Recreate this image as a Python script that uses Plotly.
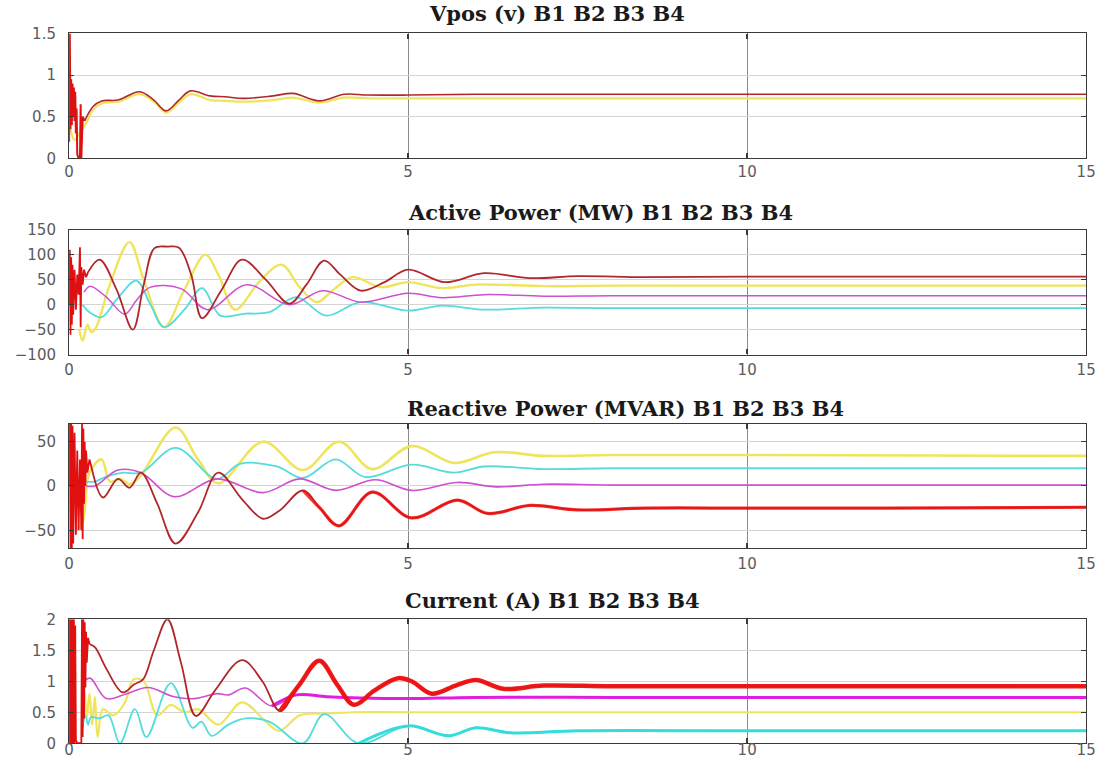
import plotly.graph_objects as go

# ---------------- data (time in s) ----------------
# Panel 1: Vpos (v)
vpos_tr_t = [0.0, 0.01, 0.02, 0.03, 0.04, 0.05, 0.06, 0.07, 0.08, 0.09, 0.1, 0.11, 0.12, 0.14, 0.16, 0.17, 0.18, 0.2, 0.23]
vpos_tr_v = [0.2, 1.5, 0.35, 0.95, 0.4, 0.9, 0.5, 0.85, 0.45, 0.8, 0.3, 0.6, 0.05, 0.0, 0.0, 0.65, 0.0, 0.5, 0.45]
vpos_b1_t = [0.23, 0.35, 0.48, 0.72, 1.04, 1.25, 1.43, 1.62, 1.79, 2.08, 2.3, 2.57, 3.01, 3.3, 3.69, 4.06, 4.4, 5.0, 6.0, 8.0, 10.0, 12.0, 15.0]
vpos_b1_v = [0.45, 0.62, 0.69, 0.70, 0.80, 0.70, 0.57, 0.70, 0.81, 0.75, 0.74, 0.72, 0.75, 0.78, 0.69, 0.77, 0.76, 0.76, 0.77, 0.77, 0.77, 0.77, 0.77]
vpos_b2_t = [0.02, 0.08, 0.15, 0.25, 0.35, 0.48, 0.72, 1.04, 1.25, 1.43, 1.62, 1.79, 2.08, 2.3, 2.57, 3.01, 3.3, 3.69, 4.06, 4.4, 5.0, 6.0, 8.0, 10.0, 15.0]
vpos_b2_v = [0.35, 0.22, 0.3, 0.42, 0.58, 0.66, 0.68, 0.77, 0.68, 0.55, 0.67, 0.77, 0.70, 0.69, 0.68, 0.70, 0.73, 0.67, 0.73, 0.72, 0.72, 0.72, 0.72, 0.72, 0.72]

# Panel 2: Active Power (MW)
p_tr_t = [0.0, 0.01, 0.02, 0.03, 0.04, 0.05, 0.06, 0.08, 0.1, 0.12, 0.14, 0.16, 0.17, 0.18, 0.2, 0.22, 0.25, 0.28]
p_tr_v = [0, 110, -60, 95, -40, 80, -20, 70, -10, 60, 20, 115, -45, 75, 40, 70, 55, 65]
p_b1_t = [0.28, 0.45, 0.7, 0.94, 1.1, 1.26, 1.45, 1.62, 1.8, 1.96, 2.25, 2.55, 2.9, 3.25, 3.5, 3.76, 4.0, 4.3, 4.65, 5.0, 5.54, 6.12, 6.8, 7.5, 8.5, 10.0, 12.0, 15.0]
p_b1_v = [65, 90, 30, -50, 40, 113, 116, 114, 60, -27, 30, 90, 50, 2, 40, 88, 60, 28, 45, 70, 45, 63, 53, 57, 55, 56, 56, 56]
p_b2_t = [0.15, 0.2, 0.27, 0.33, 0.4, 0.6, 0.89, 1.1, 1.4, 1.7, 2.01, 2.2, 2.45, 2.8, 3.13, 3.4, 3.65, 3.9, 4.18, 4.6, 5.0, 5.5, 6.0, 7.0, 8.0, 10.0, 15.0]
p_b2_v = [-50, -72, -40, -55, -45, 40, 125, 50, -45, 30, 100, 60, -10, 45, 80, 35, 5, 30, 55, 35, 45, 33, 40, 37, 38, 38, 38]
p_b3_t = [0.2, 0.3, 0.48, 0.7, 0.99, 1.2, 1.4, 1.7, 1.96, 2.23, 2.6, 2.95, 3.35, 3.79, 4.3, 5.0, 5.5, 6.12, 7.0, 8.0, 10.0, 15.0]
p_b3_v = [0, -15, -25, 10, 48, 0, -45, -10, 33, -22, -18, -15, 15, -22, 5, -12, -2, -10, -6, -7, -7, -7]
p_b4_t = [0.22, 0.31, 0.55, 0.82, 1.0, 1.2, 1.65, 2.04, 2.62, 3.25, 3.74, 4.3, 5.0, 5.5, 6.12, 7.0, 8.0, 10.0, 15.0]
p_b4_v = [25, 37, 15, -19, 10, 35, 32, -10, 40, 0, 28, 5, 23, 14, 20, 17, 18, 18, 18]

# Panel 3: Reactive Power (MVAR)
q_tr_t = [0.0, 0.01, 0.02, 0.03, 0.04, 0.05, 0.06, 0.08, 0.1, 0.12, 0.14, 0.16, 0.18, 0.19, 0.2, 0.21, 0.22, 0.23, 0.24, 0.25, 0.27, 0.3, 0.34]
q_tr_v = [0, 70, -70, 70, -70, 68, -65, 60, -55, 40, -50, 30, -50, 70, -60, 65, -20, 50, 0, 40, 15, 30, 18]
q_b1_t = [0.34, 0.5, 0.72, 0.89, 1.06, 1.3, 1.57, 1.9, 2.2, 2.55, 2.86, 3.1, 3.45, 3.7, 3.98, 4.47, 5.05, 5.73, 6.17, 6.8, 7.5, 8.5, 10.0, 12.0, 15.0]
q_b1_v = [18, -13, 8, -2, 15, -20, -65, -30, 15, -15, -37, -28, -5, -25, -45, -7, -36, -16, -31, -22, -27, -25, -25, -25, -24]
q_b2_t = [0.1, 0.2, 0.3, 0.48, 0.6, 0.75, 0.9, 1.06, 1.57, 1.9, 2.2, 2.86, 3.45, 3.98, 4.47, 5.05, 5.68, 6.27, 7.0, 8.0, 10.0, 15.0]
q_b2_v = [-50, -40, 15, 30, 5, 8, 2, 12, 66, 30, 3, 50, 18, 50, 19, 45, 26, 38, 34, 35, 35, 34]
q_b3_t = [0.25, 0.38, 0.53, 0.8, 1.06, 1.57, 2.18, 2.52, 3.06, 3.45, 3.93, 4.37, 5.05, 5.68, 6.12, 7.0, 8.0, 10.0, 15.0]
q_b3_v = [5, 5, 10, 15, 15, 43, 8, 25, 22, 9, 30, 10, 24, 15, 22, 19, 20, 20, 20]
q_b4_t = [0.25, 0.38, 0.72, 1.06, 1.55, 2.18, 2.86, 3.4, 3.93, 4.52, 5.05, 5.73, 6.3, 7.0, 8.0, 10.0, 15.0]
q_b4_v = [0, 0, 18, 15, -12, 8, -7.5, 8, -5, 7, -5, 4, -1, 2, 1, 1, 1]

# Panel 4: Current (A)
i_tr_t = [0.0, 0.01, 0.02, 0.03, 0.04, 0.05, 0.06, 0.07, 0.08, 0.09, 0.1, 0.12, 0.15, 0.18, 0.19, 0.2, 0.21, 0.22, 0.23, 0.24, 0.25, 0.26, 0.28, 0.3]
i_tr_v = [0, 2, 0, 2, 0, 2, 0, 2, 0, 1.9, 0.05, 0, 0, 0, 2, 0.1, 2, 0.4, 1.95, 0.9, 1.8, 1.3, 1.7, 1.6]
i_b1_t = [0.3, 0.38, 0.55, 0.79, 0.96, 1.09, 1.25, 1.45, 1.65, 1.87, 2.15, 2.55, 2.85, 3.11, 3.4, 3.69, 3.95, 4.2, 4.5, 4.85, 5.05, 5.35, 5.7, 6.0, 6.4, 7.0, 8.0, 10.0, 12.0, 15.0]
i_b1_v = [1.6, 1.55, 1.2, 0.82, 0.95, 1.03, 1.5, 2.0, 1.3, 0.44, 0.85, 1.34, 1.0, 0.52, 0.95, 1.33, 0.95, 0.62, 0.85, 1.05, 1.0, 0.8, 0.93, 1.02, 0.88, 0.93, 0.92, 0.92, 0.92, 0.92]
i_b2_t = [0.2, 0.23, 0.26, 0.3, 0.34, 0.38, 0.42, 0.5, 0.65, 0.82, 0.95, 1.1, 1.3, 1.5, 1.7, 1.9, 2.2, 2.55, 2.9, 3.1, 3.4, 3.8, 4.2, 5.0, 10.0, 15.0]
i_b2_v = [0.5, 0.85, 0.4, 0.8, 0.3, 0.75, 0.1, 0.55, 0.45, 0.65, 1.03, 1.0, 0.45, 0.62, 0.5, 0.55, 0.3, 0.66, 0.35, 0.2, 0.45, 0.48, 0.5, 0.5, 0.5, 0.5]
i_b3_t = [0.2, 0.24, 0.28, 0.32, 0.45, 0.58, 0.75, 0.97, 1.14, 1.5, 1.82, 1.95, 2.1, 2.35, 2.6, 2.95, 3.45, 3.76, 4.27, 5.0, 5.6, 6.0, 6.5, 7.5, 10.0, 15.0]
i_b3_v = [0.25, 0.45, 0.3, 0.42, 0.4, 0.45, 0.0, 0.55, 0.1, 0.97, 0.25, 0.35, 0.12, 0.3, 0.4, 0.35, 0.0, 0.47, 0.0, 0.28, 0.12, 0.25, 0.17, 0.2, 0.2, 0.2]
i_b4_t = [0.22, 0.31, 0.55, 0.85, 1.16, 1.55, 1.85, 2.18, 2.35, 2.6, 2.99, 3.35, 3.8, 4.3, 5.0, 6.0, 8.0, 10.0, 15.0]
i_b4_v = [1.0, 1.05, 0.72, 0.8, 0.9, 0.75, 0.72, 0.8, 0.78, 0.89, 0.6, 0.78, 0.75, 0.73, 0.72, 0.74, 0.74, 0.74, 0.74]

titles = ["Vpos (v) B1 B2 B3 B4", "Active Power (MW) B1 B2 B3 B4",
          "Reactive Power (MVAR) B1 B2 B3 B4", "Current (A) B1 B2 B3 B4"]
x_ticks = [0, 5, 10, 15]
y_ranges = [[0, 1.5], [-100, 150], [-70, 70], [0, 2]]
y_ticks = [[0, 0.5, 1, 1.5], [-100, -50, 0, 50, 100, 150], [-50, 0, 50], [0, 0.5, 1, 1.5, 2]]

# ---------------- styling ----------------
W, H = 1108, 763
PX_L, PX_R = 65, 1096
panel_px = [(25, 153), (226, 354), (425, 552), (625, 752)]
title_y_px = [5, 208, 409, 606]
title_x_px = [428, 407, 405, 403]
xlab_standoff = [-1, 1, 2, -7]

C_B1 = "#b0282c"
C_B1H = "#ee1111"
C_B2 = "#efe55c"
C_B3 = "#55dcdc"
C_B4 = "#cf4fcf"

fig = go.Figure()


def add(ax, t, v, color, width, shape="spline", opacity=1.0):
    fig.add_trace(go.Scatter(
        x=t, y=v, mode="lines", xaxis="x" + ax, yaxis="y" + ax,
        line=dict(color=color, width=width, shape=shape, smoothing=1.0),
        opacity=opacity, showlegend=False, hoverinfo="skip"))


def late(t, v, t0):
    idx = [i for i, tt in enumerate(t) if tt >= t0]
    s = max(idx[0] - 1, 0)
    return t[s:], v[s:]


# Panel 1
add("", vpos_b2_t, vpos_b2_v, C_B2, 2.2)
add("", vpos_tr_t, vpos_tr_v, "#dd1111", 2.0, shape="linear")
add("", vpos_b1_t, vpos_b1_v, C_B1, 1.6)

# Panel 2
add("2", p_b2_t, p_b2_v, C_B2, 2.4)
add("2", p_b3_t, p_b3_v, C_B3, 1.8)
add("2", p_b4_t, p_b4_v, C_B4, 1.5)
add("2", p_tr_t, p_tr_v, "#dd1111", 1.8, shape="linear")
add("2", p_b1_t, p_b1_v, C_B1, 1.8)

# Panel 3
add("3", q_b2_t, q_b2_v, C_B2, 2.6)
add("3", q_b3_t, q_b3_v, C_B3, 1.8)
add("3", q_b4_t, q_b4_v, C_B4, 1.6)
add("3", q_tr_t, q_tr_v, "#e01010", 1.8, shape="linear")
add("3", q_b1_t, q_b1_v, C_B1, 1.8)
lt, lv = late(q_b1_t, q_b1_v, 3.6)
add("3", lt, lv, C_B1H, 3.2, opacity=0.85)

# Panel 4
add("4", i_b2_t, i_b2_v, C_B2, 2.2)
add("4", i_b3_t, i_b3_v, C_B3, 1.8)
lt, lv = late(i_b3_t, i_b3_v, 4.3)
add("4", lt, lv, "#33dddd", 3.0)
add("4", i_b4_t, i_b4_v, C_B4, 1.6)
lt, lv = late(i_b4_t, i_b4_v, 3.3)
add("4", lt, lv, "#e01ee0", 3.0)
add("4", i_tr_t, i_tr_v, "#e01010", 1.8, shape="linear")
add("4", i_b1_t, i_b1_v, C_B1, 1.8)
lt, lv = late(i_b1_t, i_b1_v, 3.4)
add("4", lt, lv, C_B1H, 4.5, opacity=0.95)

tick_font = dict(family="DejaVu Sans", size=15, color="#5a5a5a")
layout = dict(width=W, height=H, margin=dict(l=0, r=0, t=0, b=0),
              paper_bgcolor="white", plot_bgcolor="white", autosize=False)
annotations = []
for k in range(4):
    sfx = "" if k == 0 else str(k + 1)
    top, bot = panel_px[k]
    layout["xaxis" + sfx] = dict(
        domain=[PX_L / W, PX_R / W], range=[0, 15], tickvals=x_ticks,
        anchor="y" + sfx, showgrid=True, gridcolor="#8a8a8a", gridwidth=1.3,
        zeroline=False, showline=True, linecolor="#3a3a3a", linewidth=1.3,
        mirror="ticks", ticks="inside", ticklen=5, tickwidth=1.5, tickcolor="#3a3a3a",
        tickfont=tick_font, ticklabelstandoff=xlab_standoff[k])
    layout["yaxis" + sfx] = dict(
        domain=[1 - bot / H, 1 - top / H], range=y_ranges[k], tickvals=y_ticks[k],
        anchor="x" + sfx, showgrid=True, gridcolor="#d4d4d4", gridwidth=1,
        zeroline=False, showline=True, linecolor="#3a3a3a", linewidth=1.3,
        mirror="ticks", ticks="inside", ticklen=5, tickwidth=1.2, tickcolor="#3a3a3a",
        tickfont=tick_font, ticklabelstandoff=9)
    annotations.append(dict(
        text="<b>" + titles[k] + "</b>", xref="paper", yref="paper",
        x=title_x_px[k] / W, y=1 - title_y_px[k] / H, xanchor="left", yanchor="middle",
        showarrow=False, font=dict(family="DejaVu Serif", size=21, color="#1a1a1a")))
layout["annotations"] = annotations
fig.update_layout(**layout)

# remove the default page margin so the 1108x763 figure fills the window exactly
page_fix = ("var s=document.documentElement.style;s.margin='0';s.padding='0';s.overflow='hidden';"
            "var b=document.body.style;b.margin='0';b.padding='0';b.overflow='hidden';b.lineHeight='0';")
fig.write_html("out.html", post_script=page_fix, config={"displayModeBar": False})
